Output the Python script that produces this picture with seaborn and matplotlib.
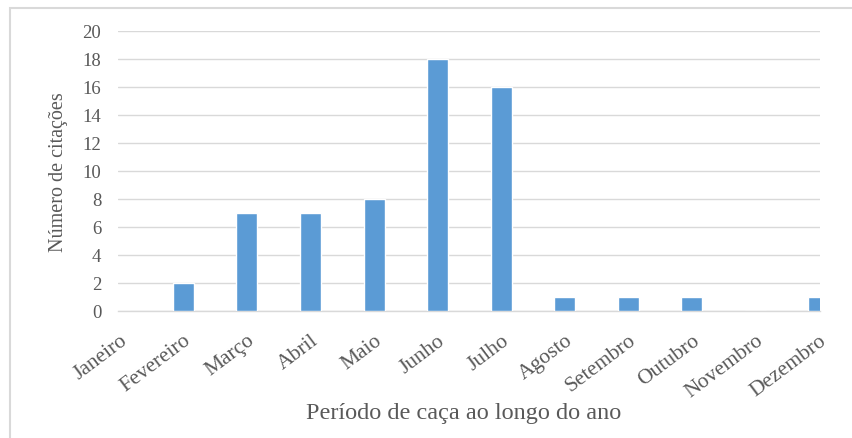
import matplotlib
matplotlib.use("Agg")
import matplotlib.pyplot as plt
import seaborn as sns
import pandas as pd
from matplotlib.patches import Rectangle

months = ["Janeiro", "Fevereiro", "Março", "Abril", "Maio", "Junho", "Julho",
          "Agosto", "Setembro", "Outubro", "Novembro", "Dezembro"]
citations = [0, 2, 7, 7, 8, 18, 16, 1, 1, 1, 0, 1]
y_ticks = [0, 2, 4, 6, 8, 10, 12, 14, 16, 18, 20]

df = pd.DataFrame({"mes": months, "citacoes": citations})

sns.set_theme(style="white")
plt.rcParams["font.family"] = ["Liberation Serif", "DejaVu Serif"]

fig = plt.figure(figsize=(8.52, 4.39), dpi=100)
ax = fig.add_axes([118/852, 1-312/439, (820-118)/852, (312-32)/439])

sns.barplot(data=df, x="mes", y="citacoes", color="#5B9BD5", saturation=1,
            width=0.33, ax=ax, zorder=3)

ax.set_ylim(0, 20)
ax.set_xlim(-0.03, 11.02)
ax.set_yticks(y_ticks)
ax.yaxis.grid(True, color="#D9D9D9", linewidth=1.0, zorder=0)
ax.xaxis.grid(False)
for s in ["top", "right", "left"]:
    ax.spines[s].set_visible(False)
ax.spines["bottom"].set_color("#D9D9D9")
ax.spines["bottom"].set_linewidth(1.0)
ax.tick_params(axis="both", length=0, labelcolor="#595959")
ax.tick_params(axis="y", pad=12, labelsize=13.5)
ax.tick_params(axis="x", pad=14, labelsize=15.5)
for lbl in ax.get_xticklabels():
    lbl.set_rotation(37)
    lbl.set_ha("right")
    lbl.set_rotation_mode("anchor")

ax.set_xlabel("Período de caça ao longo do ano", fontsize=17.5, color="#595959")
ax.set_ylabel("Número de citações", fontsize=14.5, color="#595959")
ax.xaxis.set_label_coords((464-118)/702, -(403-312)/280)
ax.yaxis.set_label_coords(-(118-68)/702, 0.5)

fig.patches.append(Rectangle((10/852, -0.1), 1.0, 1 - 9/439 + 0.1, transform=fig.transFigure,
                             fill=False, edgecolor="#D9D9D9", linewidth=1.5))

fig.savefig("out.png", dpi=100)
